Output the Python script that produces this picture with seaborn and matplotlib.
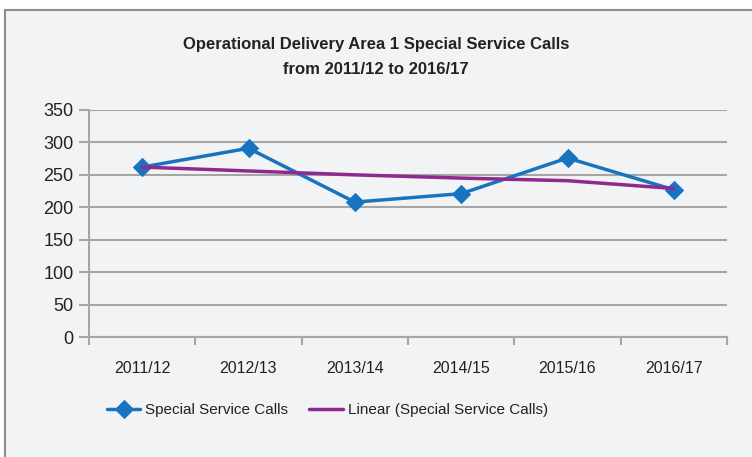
import matplotlib.pyplot as plt
import seaborn as sns
import pandas as pd
from matplotlib.patches import Rectangle

years = ['2011/12', '2012/13', '2013/14', '2014/15', '2015/16', '2016/17']
calls = [262, 291, 208, 221, 276, 227]
trend = [262, 256, 250, 245, 241, 229]
y_ticks = [0, 50, 100, 150, 200, 250, 300, 350]

sns.set_style('white')
plt.rcParams['font.family'] = ['Liberation Sans', 'DejaVu Sans']

bg = '#f2f3f5'
grid_col = '#a6a6a6'
blue = '#1874c0'
purple = '#8e2a8e'

df = pd.DataFrame({'year': years, 'calls': calls, 'trend': trend})
df['pos'] = range(len(years))

fig = plt.figure(figsize=(7.52, 4.57), dpi=100)
fig.patch.set_facecolor('white')
fig.patches.append(Rectangle((5 / 752, -0.05), 1, 1.05 - 10 / 457, transform=fig.transFigure,
                             facecolor=bg, edgecolor='#8c8c8c', linewidth=1.5, zorder=-1))

ax = fig.add_axes([89 / 752, (457 - 337) / 457, (727 - 89) / 752, 227 / 457])
ax.set_facecolor(bg)

sns.lineplot(data=df, x='pos', y='calls', ax=ax, color=blue, linewidth=2.5,
             marker='D', markersize=9, markeredgecolor=blue, label='Special Service Calls')
sns.lineplot(data=df, x='pos', y='trend', ax=ax, color=purple, linewidth=2.5,
             label='Linear (Special Service Calls)')

ax.set_xlim(-0.5, len(years) - 0.5)
ax.set_ylim(0, 350)
ax.set_yticks(y_ticks)
ax.set_xticks(df['pos'])
ax.set_xticklabels(years)
ax.set_xticks([i - 0.5 for i in range(len(years) + 1)], minor=True)
ax.tick_params(bottom=True, left=True, which='both')
ax.tick_params(axis='x', which='major', length=0, pad=17, labelsize=11.5, colors='#222222')
ax.tick_params(axis='x', which='minor', length=6, width=1.5, color=grid_col, direction='out')
ax.tick_params(axis='y', length=7, width=1.5, color=grid_col, labelsize=13,
               labelcolor='#222222', pad=4, direction='out')
ax.yaxis.grid(True, color=grid_col, linewidth=1.5)
ax.set_axisbelow(True)
for s in ['top', 'right']:
    ax.spines[s].set_visible(False)
for s in ['left', 'bottom']:
    ax.spines[s].set_color(grid_col)
    ax.spines[s].set_linewidth(1.5)
ax.set_xlabel('')
ax.set_ylabel('')

fig.text(0.5, 1 - 45 / 457, 'Operational Delivery Area 1 Special Service Calls',
         ha='center', va='center', fontsize=12, fontweight='bold', color='#222222')
fig.text(0.5, 1 - 69 / 457, 'from 2011/12 to 2016/17',
         ha='center', va='center', fontsize=12, fontweight='bold', color='#222222')

ax.legend(loc='center left', bbox_to_anchor=((93 - 89) / 638, -(410 - 337) / 227),
          bbox_transform=ax.transAxes, ncol=2, frameon=False, fontsize=11,
          handlelength=2.2, columnspacing=1.4, handletextpad=0.3, labelcolor='#222222')

plt.savefig('out.png', dpi=100, facecolor=fig.get_facecolor())
